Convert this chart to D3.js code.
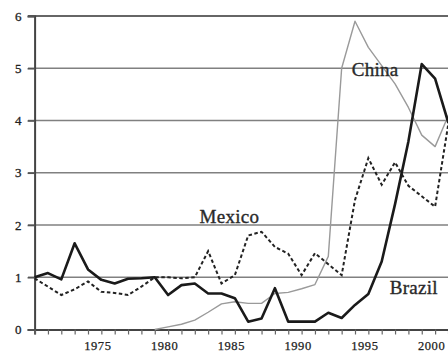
<!DOCTYPE html>
<html><head><meta charset="utf-8">
<script src="https://cdn.jsdelivr.net/npm/d3@7"></script>
<style>
html,body{margin:0;padding:0;background:#fff;}
svg{display:block;}
text{font-family:"Liberation Serif","Times New Roman",serif;}
</style></head>
<body>
<script>
const years = d3.range(1970, 2002);
const brazil = [1.0,1.08,0.96,1.65,1.15,0.95,0.88,0.97,0.98,1.0,
                0.66,0.85,0.88,0.69,0.69,0.6,0.15,0.21,0.79,0.15,
                0.15,0.15,0.32,0.22,0.47,0.68,1.3,2.4,3.6,5.08,4.8,3.95];
const mexico = [0.98,0.82,0.66,0.77,0.92,0.72,0.7,0.66,0.82,1.0,
                1.0,0.98,1.0,1.5,0.88,1.04,1.8,1.87,1.58,1.45,
                1.04,1.46,1.25,1.04,2.48,3.28,2.77,3.2,2.75,2.55,2.35,3.95];
const chinaYears = d3.range(1979, 2002);
const china = [0.0,0.05,0.1,0.18,0.33,0.49,0.53,0.5,0.5,0.69,0.71,
               0.78,0.86,1.4,5.0,5.9,5.4,5.05,4.7,4.25,3.72,3.5,4.1];
const yTicks = [0,1,2,3,4,5,6];
const xLabelYears = [1975,1980,1985,1990,1995,2000];
const labels = [
  {name:"China", year:1993.75, value:4.85},
  {name:"Mexico", year:1982.35, value:2.03},
  {name:"Brazil", year:1996.6, value:0.68}
];

const W = 448, H = 352;
const svg = d3.select("body").append("svg").attr("width", W).attr("height", H);
const x = d3.scaleLinear().domain([1970, 2001]).range([34.6, 448.45]);
const y = d3.scaleLinear().domain([0, 6]).range([329.5, 16]);

// gridlines
svg.append("g").selectAll("line").data(yTicks.filter(d=>d>0)).join("line")
  .attr("x1", 28).attr("x2", W)
  .attr("y1", d=>y(d)).attr("y2", d=>y(d))
  .attr("stroke", d=> d===6 ? "#666" : "#808080")
  .attr("stroke-width", d=> d===6 ? 2.2 : 1.6);

// y axis
const yAxis = svg.append("g").attr("transform", `translate(${x(1970)},0)`)
  .call(d3.axisLeft(y).tickValues(yTicks).tickSize(7).tickPadding(6).tickFormat(d3.format("d")));
yAxis.select(".domain").attr("stroke","#444").attr("stroke-width",2);
yAxis.selectAll(".tick line").attr("stroke","#555").attr("stroke-width",1.6);
yAxis.selectAll("text").attr("font-size",13).attr("fill","#222")
  .attr("stroke","#222").attr("stroke-width",0.3).attr("font-family","Liberation Serif, serif");

// x axis
const xAxis = svg.append("g").attr("transform", `translate(0,${y(0)})`)
  .call(d3.axisBottom(x).tickValues(years).tickSize(5).tickFormat(""));
xAxis.select(".domain").attr("stroke","#444").attr("stroke-width",2);
xAxis.selectAll(".tick line").attr("stroke","#666").attr("stroke-width",1.2);
svg.append("g").selectAll("text").data(xLabelYears).join("text")
  .attr("x", d=>x(d)-3.5).attr("y", 350)
  .attr("text-anchor","middle").attr("font-size",12.5).attr("fill","#222")
  .attr("stroke","#222").attr("stroke-width",0.25)
  .attr("letter-spacing", 0.6)
  .text(d=>d);

const line = d3.line().x(d=>x(d[0])).y(d=>y(d[1]));

svg.append("path").datum(d3.zip(chinaYears, china))
  .attr("d", line).attr("fill","none").attr("stroke","#9a9a9a").attr("stroke-width",1.4)
  .attr("stroke-linejoin","round");
svg.append("path").datum(d3.zip(years, mexico))
  .attr("d", line).attr("fill","none").attr("stroke","#222").attr("stroke-width",2)
  .attr("stroke-dasharray","3.5,2.5");
svg.append("path").datum(d3.zip(years, brazil))
  .attr("d", line).attr("fill","none").attr("stroke","#1a1a1a").attr("stroke-width",2.6)
  .attr("stroke-linejoin","round");

svg.append("g").selectAll("text").data(labels).join("text")
  .attr("x", d=>x(d.year)).attr("y", d=>y(d.value))
  .attr("font-size",19).attr("fill","#2a2a2a").attr("stroke","#2a2a2a").attr("stroke-width",0.35)
  .attr("letter-spacing",0.3)
  .text(d=>d.name);
</script>
</body></html>
